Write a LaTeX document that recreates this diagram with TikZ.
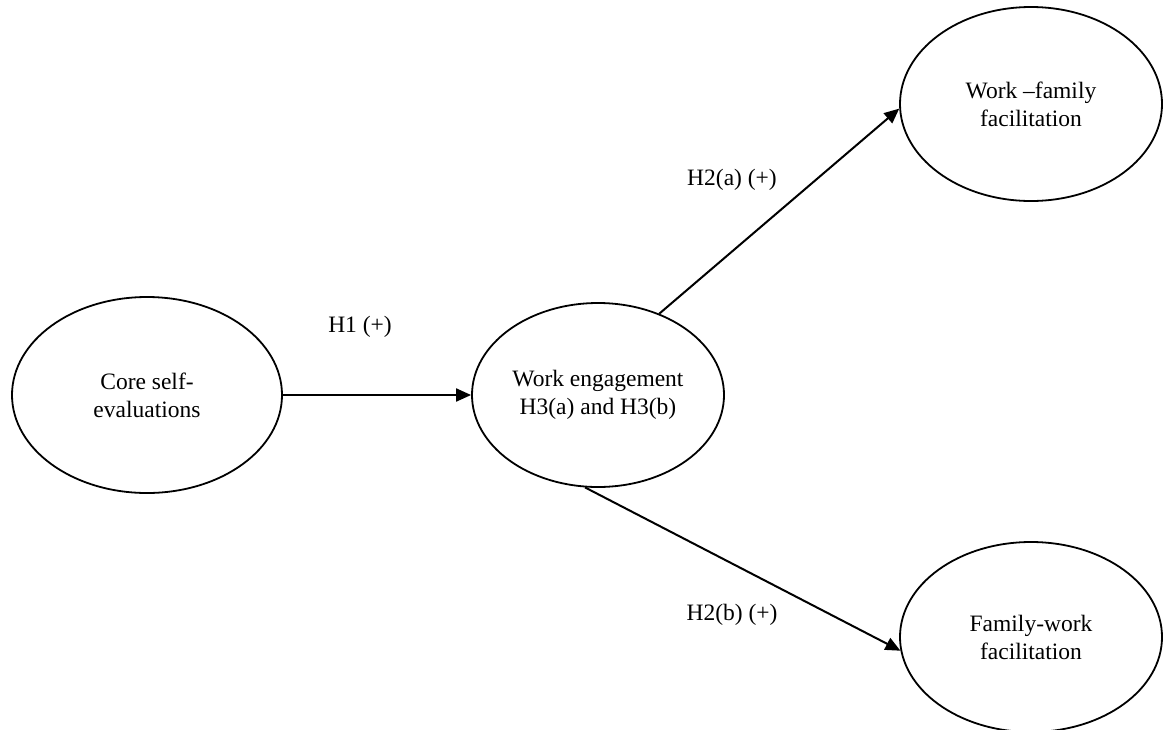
\documentclass[tikz,border=0pt]{standalone}
\usepackage{fontspec}
\setmainfont{Liberation Serif}
\usetikzlibrary{arrows.meta,shapes}

\begin{document}
\begin{tikzpicture}[x=1pt,y=-1pt,>={Triangle[length=15pt,width=13pt]},
  var/.style={draw,line width=1.8pt,ellipse,inner sep=0pt,align=center,font=\fontsize{23.5}{28}\selectfont},
  hyp/.style={font=\fontsize{23.5}{28}\selectfont}]
\useasboundingbox (0,0) rectangle (1165,729);
\node[var,minimum width=270pt,minimum height=196pt](cse)at(147,395){Core self-\\evaluations};
\node[var,minimum width=252pt,minimum height=184pt](we)at(598,395){Work engagement\\H3(a) and H3(b)};
\node[var,minimum width=262pt,minimum height=194pt](wff)at(1031,104){Work --family\\facilitation};
\node[var,minimum width=262pt,minimum height=190pt](fwf)at(1031,637){Family-work\\facilitation};
\draw[line width=2pt,->](cse.east)--(we.west);
\draw[line width=2pt,->](we.53)--(wff.182);
\draw[line width=2pt,->](we.262)--(fwf.186);
\node[hyp](h1)at(360,327){H1 (+)};
\node[hyp](h2a)at(732,180){H2(a) (+)};
\node[hyp](h2b)at(732,615){H2(b) (+)};
\end{tikzpicture}
\end{document}
